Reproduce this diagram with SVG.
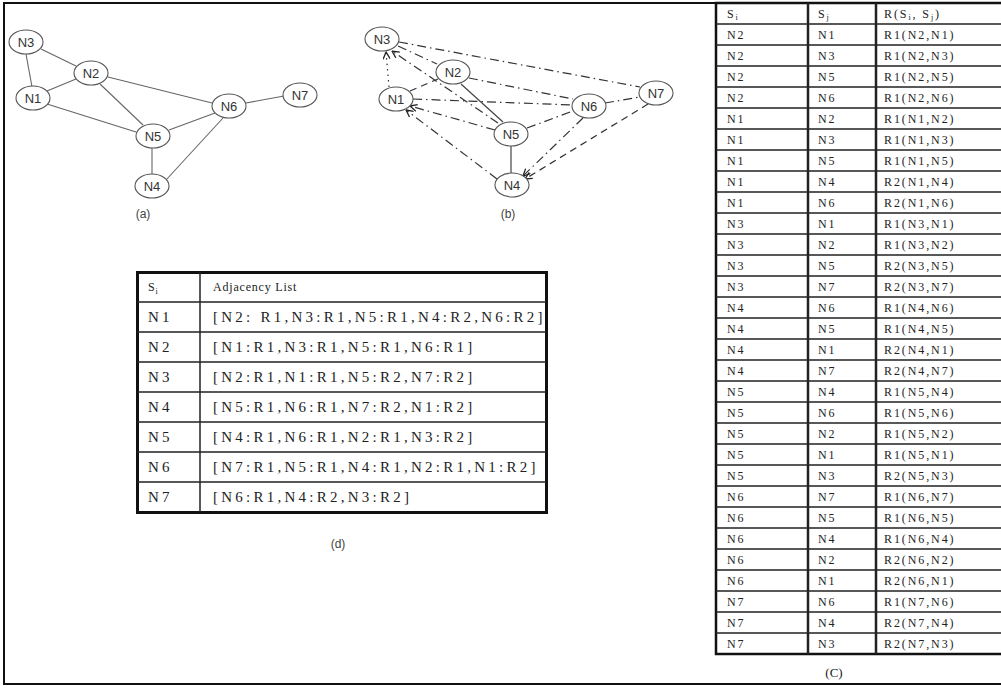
<svg xmlns="http://www.w3.org/2000/svg" width="1001" height="688" viewBox="0 0 1001 688">
<style>
.nd{fill:#fff;stroke:#555;stroke-width:1.1}
.nl{font-family:"Liberation Sans",Arial,sans-serif;font-size:13px;fill:#333;text-anchor:middle}
.ea{stroke:#666;stroke-width:1.1;fill:none}
.eb{stroke:#333;stroke-width:1.2;fill:none}
.solid{stroke:#444}
.dd{stroke-dasharray:9,4,1.5,4}
.dt{stroke-dasharray:1.5,4}
.ds{stroke-dasharray:7,5}
.cap{font-family:"Liberation Sans",Arial,sans-serif;font-size:12px;fill:#444;text-anchor:middle}
.tc{font-family:"Liberation Serif","Times New Roman",serif;font-size:12px;fill:#222;letter-spacing:1.9px}
.td{font-family:"Liberation Serif","Times New Roman",serif;font-size:15px;fill:#222;letter-spacing:3.25px}
.th{font-family:"Liberation Serif","Times New Roman",serif;font-size:12px;fill:#222;letter-spacing:0.8px}
.sub{font-size:8px}
.hl{stroke:#222;stroke-width:1.5;fill:none}
.vl{stroke:#222;stroke-width:2.5;fill:none}
</style>
<defs>
<marker id="arr" viewBox="0 0 8 8" refX="7.5" refY="4" markerWidth="8" markerHeight="8" orient="auto" markerUnits="userSpaceOnUse">
<path d="M0.5,0.5 L7.5,4 L0.5,7.5" fill="none" stroke="#222" stroke-width="1.3"/>
</marker>
</defs>

<g id="frame">
<polyline points="1005,3 4,3 4,684 1005,684" fill="none" stroke="#111" stroke-width="2"/>
</g>

<!-- Graph (a) -->
<g id="graph-a">
<g id="a-connectors">
<line class="ea" x1="26" y1="54" x2="32" y2="87"/>
<line class="ea" x1="41" y1="49" x2="76" y2="66"/>
<line class="ea" x1="47" y1="91" x2="76" y2="79"/>
<line class="ea" x1="100" y1="84" x2="143" y2="125"/>
<line class="ea" x1="108" y1="77" x2="212" y2="103"/>
<line class="ea" x1="47" y1="104" x2="136" y2="132"/>
<line class="ea" x1="169" y1="130" x2="215" y2="113"/>
<line class="ea" x1="246" y1="103" x2="284" y2="96"/>
<line class="ea" x1="152" y1="148" x2="152" y2="174"/>
<line class="ea" x1="223" y1="118" x2="166" y2="180"/>
</g>
<g id="a-N3"><ellipse class="nd" cx="26" cy="42" rx="17" ry="12"/><text class="nl" x="26" y="47">N3</text></g>
<g id="a-N2"><ellipse class="nd" cx="91" cy="73" rx="17" ry="12"/><text class="nl" x="91" y="78">N2</text></g>
<g id="a-N1"><ellipse class="nd" cx="33" cy="98" rx="17" ry="12"/><text class="nl" x="33" y="103">N1</text></g>
<g id="a-N6"><ellipse class="nd" cx="229" cy="106" rx="17" ry="12"/><text class="nl" x="229" y="111">N6</text></g>
<g id="a-N7"><ellipse class="nd" cx="300" cy="95" rx="17" ry="12"/><text class="nl" x="300" y="100">N7</text></g>
<g id="a-N5"><ellipse class="nd" cx="153" cy="136" rx="17" ry="12"/><text class="nl" x="153" y="141">N5</text></g>
<g id="a-N4"><ellipse class="nd" cx="152" cy="186" rx="17" ry="12"/><text class="nl" x="152" y="191">N4</text></g>
<text class="cap" x="143" y="218">(a)</text>
</g>

<!-- Graph (b) -->
<g id="graph-b">
<g id="b-connectors">
<line class="eb dt" x1="389" y1="87" x2="386" y2="52" marker-end="url(#arr)"/>
<line class="eb dd" x1="398" y1="46" x2="437" y2="64"/>
<line class="eb dd" x1="498" y1="123" x2="392" y2="51" marker-end="url(#arr)"/>
<line class="eb dd" x1="399" y1="42" x2="640" y2="87"/>
<line class="eb ds" x1="410" y1="91" x2="438" y2="79"/>
<line class="eb dd" x1="413" y1="99" x2="572" y2="105"/>
<line class="eb dd" x1="495" y1="130" x2="410" y2="106" marker-end="url(#arr)"/>
<line class="eb dd" x1="497" y1="179" x2="406" y2="110" marker-end="url(#arr)"/>
<line class="eb dd" x1="469" y1="78" x2="573" y2="99"/>
<line class="eb solid" x1="461" y1="84" x2="503" y2="122"/>
<line class="eb solid" x1="511" y1="146" x2="511" y2="173"/>
<line class="eb dd" x1="527" y1="128" x2="573" y2="111"/>
<line class="eb dd" x1="605" y1="103" x2="640" y2="97"/>
<line class="eb dd" x1="583" y1="118" x2="523" y2="176" marker-end="url(#arr)"/>
<line class="eb ds" x1="648" y1="104" x2="525" y2="179" marker-end="url(#arr)"/>
</g>
<g id="b-N3"><ellipse class="nd" cx="382" cy="39" rx="17" ry="12"/><text class="nl" x="382" y="44">N3</text></g>
<g id="b-N2"><ellipse class="nd" cx="453" cy="72" rx="17" ry="12"/><text class="nl" x="453" y="77">N2</text></g>
<g id="b-N1"><ellipse class="nd" cx="396" cy="99" rx="17" ry="12"/><text class="nl" x="396" y="104">N1</text></g>
<g id="b-N6"><ellipse class="nd" cx="589" cy="106" rx="17" ry="12"/><text class="nl" x="589" y="111">N6</text></g>
<g id="b-N7"><ellipse class="nd" cx="656" cy="93" rx="17" ry="12"/><text class="nl" x="656" y="98">N7</text></g>
<g id="b-N5"><ellipse class="nd" cx="511" cy="134" rx="17" ry="12"/><text class="nl" x="511" y="139">N5</text></g>
<g id="b-N4"><ellipse class="nd" cx="512" cy="185" rx="17" ry="12"/><text class="nl" x="512" y="190">N4</text></g>
<text class="cap" x="508" y="218">(b)</text>
</g>

<!-- Table (d) -->
<g id="table-d">
<rect x="137.5" y="272.5" width="409" height="240" fill="#fff" stroke="#111" stroke-width="3"/>
<path class="hl" d="M137,302H546M137,332H546M137,362H546M137,392H546M137,422H546M137,452H546M137,482H546"/>
<line class="hl" x1="200" y1="272" x2="200" y2="512" stroke-width="2"/>
<text class="th" x="148" y="291" font-size="13">S<tspan class="sub" dy="3">i</tspan></text>
<text class="th" x="213" y="291">Adjacency List</text>
<text class="td" x="148" y="322">N1</text><text class="td" x="213" y="322">[N2: R1,N3:R1,N5:R1,N4:R2,N6:R2]</text>
<text class="td" x="148" y="352">N2</text><text class="td" x="213" y="352">[N1:R1,N3:R1,N5:R1,N6:R1]</text>
<text class="td" x="148" y="382">N3</text><text class="td" x="213" y="382">[N2:R1,N1:R1,N5:R2,N7:R2]</text>
<text class="td" x="148" y="412">N4</text><text class="td" x="213" y="412">[N5:R1,N6:R1,N7:R2,N1:R2]</text>
<text class="td" x="148" y="442">N5</text><text class="td" x="213" y="442">[N4:R1,N6:R1,N2:R1,N3:R2]</text>
<text class="td" x="148" y="472">N6</text><text class="td" x="213" y="472">[N7:R1,N5:R1,N4:R1,N2:R1,N1:R2]</text>
<text class="td" x="148" y="502">N7</text><text class="td" x="213" y="502">[N6:R1,N4:R2,N3:R2]</text>
<text class="cap" x="338" y="548">(d)</text>
</g>

<!-- Table (c) -->
<g id="table-c">
<rect x="716" y="3" width="290" height="651" fill="#fff" stroke="#111" stroke-width="2.5"/>
<path class="hl" d="M716,24H1005M716,45H1005M716,66H1005M716,87H1005M716,108H1005M716,129H1005M716,150H1005M716,171H1005M716,192H1005M716,213H1005M716,234H1005M716,255H1005M716,276H1005M716,297H1005M716,318H1005M716,339H1005M716,360H1005M716,381H1005M716,402H1005M716,423H1005M716,444H1005M716,465H1005M716,486H1005M716,507H1005M716,528H1005M716,549H1005M716,570H1005M716,591H1005M716,612H1005M716,633H1005"/>
<path class="vl" d="M808,3V654M876,3V654"/>
<text class="tc" x="727" y="17.5">S<tspan class="sub" dy="2">i</tspan></text>
<text class="tc" x="818" y="17.5">S<tspan class="sub" dy="2">j</tspan></text>
<text class="tc" x="884" y="17.5">R(S<tspan class="sub" dy="2">i</tspan><tspan dy="-2">, S</tspan><tspan class="sub" dy="2">j</tspan><tspan dy="-2">)</tspan></text>
<g class="tc">
<text x="727" y="38.5">N2</text><text x="818" y="38.5">N1</text><text x="884" y="38.5">R1(N2,N1)</text>
<text x="727" y="59.5">N2</text><text x="818" y="59.5">N3</text><text x="884" y="59.5">R1(N2,N3)</text>
<text x="727" y="80.5">N2</text><text x="818" y="80.5">N5</text><text x="884" y="80.5">R1(N2,N5)</text>
<text x="727" y="101.5">N2</text><text x="818" y="101.5">N6</text><text x="884" y="101.5">R1(N2,N6)</text>
<text x="727" y="122.5">N1</text><text x="818" y="122.5">N2</text><text x="884" y="122.5">R1(N1,N2)</text>
<text x="727" y="143.5">N1</text><text x="818" y="143.5">N3</text><text x="884" y="143.5">R1(N1,N3)</text>
<text x="727" y="164.5">N1</text><text x="818" y="164.5">N5</text><text x="884" y="164.5">R1(N1,N5)</text>
<text x="727" y="185.5">N1</text><text x="818" y="185.5">N4</text><text x="884" y="185.5">R2(N1,N4)</text>
<text x="727" y="206.5">N1</text><text x="818" y="206.5">N6</text><text x="884" y="206.5">R2(N1,N6)</text>
<text x="727" y="227.5">N3</text><text x="818" y="227.5">N1</text><text x="884" y="227.5">R1(N3,N1)</text>
<text x="727" y="248.5">N3</text><text x="818" y="248.5">N2</text><text x="884" y="248.5">R1(N3,N2)</text>
<text x="727" y="269.5">N3</text><text x="818" y="269.5">N5</text><text x="884" y="269.5">R2(N3,N5)</text>
<text x="727" y="290.5">N3</text><text x="818" y="290.5">N7</text><text x="884" y="290.5">R2(N3,N7)</text>
<text x="727" y="311.5">N4</text><text x="818" y="311.5">N6</text><text x="884" y="311.5">R1(N4,N6)</text>
<text x="727" y="332.5">N4</text><text x="818" y="332.5">N5</text><text x="884" y="332.5">R1(N4,N5)</text>
<text x="727" y="353.5">N4</text><text x="818" y="353.5">N1</text><text x="884" y="353.5">R2(N4,N1)</text>
<text x="727" y="374.5">N4</text><text x="818" y="374.5">N7</text><text x="884" y="374.5">R2(N4,N7)</text>
<text x="727" y="395.5">N5</text><text x="818" y="395.5">N4</text><text x="884" y="395.5">R1(N5,N4)</text>
<text x="727" y="416.5">N5</text><text x="818" y="416.5">N6</text><text x="884" y="416.5">R1(N5,N6)</text>
<text x="727" y="437.5">N5</text><text x="818" y="437.5">N2</text><text x="884" y="437.5">R1(N5,N2)</text>
<text x="727" y="458.5">N5</text><text x="818" y="458.5">N1</text><text x="884" y="458.5">R1(N5,N1)</text>
<text x="727" y="479.5">N5</text><text x="818" y="479.5">N3</text><text x="884" y="479.5">R2(N5,N3)</text>
<text x="727" y="500.5">N6</text><text x="818" y="500.5">N7</text><text x="884" y="500.5">R1(N6,N7)</text>
<text x="727" y="521.5">N6</text><text x="818" y="521.5">N5</text><text x="884" y="521.5">R1(N6,N5)</text>
<text x="727" y="542.5">N6</text><text x="818" y="542.5">N4</text><text x="884" y="542.5">R1(N6,N4)</text>
<text x="727" y="563.5">N6</text><text x="818" y="563.5">N2</text><text x="884" y="563.5">R2(N6,N2)</text>
<text x="727" y="584.5">N6</text><text x="818" y="584.5">N1</text><text x="884" y="584.5">R2(N6,N1)</text>
<text x="727" y="605.5">N7</text><text x="818" y="605.5">N6</text><text x="884" y="605.5">R1(N7,N6)</text>
<text x="727" y="626.5">N7</text><text x="818" y="626.5">N4</text><text x="884" y="626.5">R2(N7,N4)</text>
<text x="727" y="647.5">N7</text><text x="818" y="647.5">N3</text><text x="884" y="647.5">R2(N7,N3)</text>
</g>
<text x="834" y="677" font-family="Liberation Serif,'Times New Roman',serif" font-size="13" fill="#222" text-anchor="middle">(C)</text>
</g>
</svg>
